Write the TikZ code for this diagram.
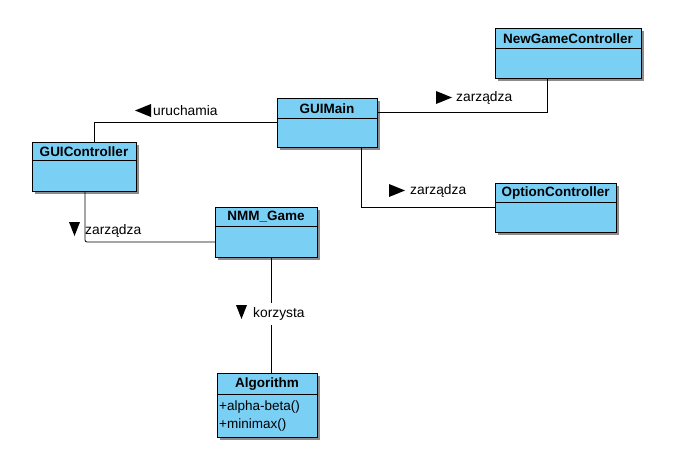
\documentclass[tikz,border=0pt]{standalone}
\usepackage{fontspec}
\setmainfont{Liberation Sans}
\usetikzlibrary{shadows}
\definecolor{clsfill}{RGB}{122,207,245}
\tikzset{
  cls/.style={draw=black, line width=1pt, fill=clsfill, inner sep=0pt, outer sep=0pt, anchor=north west,
    drop shadow={shadow xshift=3pt, shadow yshift=-3pt, fill=black!45, opacity=1}},
  clstitle/.style={font=\bfseries\fontsize{13.5}{15}\selectfont, inner sep=0pt},
  member/.style={font=\fontsize{13.5}{15}\selectfont, inner sep=0pt, anchor=west},
  lbl/.style={font=\fontsize{13.8}{15}\selectfont, inner sep=0pt, anchor=west},
  conn/.style={line width=0.8pt},
  tri/.style={fill=black}
}
\newcommand\umlclass[7]{%
  \node[cls, minimum width={(#4-#2)*1pt}, minimum height={(#5-#3)*1pt}] (#1) at (#2,#3) {};
  \node[clstitle] (#1t) at ({(#2+#4)/2},{(#3+#6)/2+0.5}) {#7};
  \draw[line width=1pt] (#1.west |- 0,#6) -- (#1.east |- 0,#6);
}
\begin{document}
\begin{tikzpicture}[x=1pt,y=-1pt]
\useasboundingbox[fill=white] (0,0) rectangle (679,466);
% classes
\umlclass{gm}{277}{98}{377}{147}{118}{GUIMain}
\umlclass{ng}{495}{28}{641}{78}{48}{NewGameController}
\umlclass{gc}{32}{142}{136}{191}{160}{GUIController}
\umlclass{nm}{215}{207}{317}{257}{226}{NMM\_Game}
\umlclass{oc}{495}{183}{616}{232}{202}{OptionController}
\umlclass{al}{217}{373}{317}{437}{394}{Algorithm}
\node[member] (m1) at (219,407) {+alpha-beta()};
\node[member] (m2) at (219,425) {+minimax()};
% connectors
\draw[conn] (gm.west) -| ([xshift=10pt]gc.north);
\draw[conn] ([yshift=10.5pt]gm.east) -| ([xshift=-21pt]ng.south);
\draw[conn] ([xshift=34pt]gm.south) |- (oc.west);
\draw[conn, rounded corners=2pt] ([xshift=1pt]gc.south) |- ([yshift=-10pt]nm.west);
\draw[conn] ([xshift=5pt]nm.south) -- ([xshift=5pt]nm.south |- al.north);
% labels
\node[lbl] (l1) at (153,111) {uruchamia};
\fill[tri] ([xshift=-2pt,yshift=7pt]l1.west) -- ([xshift=-2pt,yshift=-6pt]l1.west) -- ([xshift=-18pt,yshift=0.5pt]l1.west) -- cycle;
\node[lbl] (l2) at (456,98) {zarządza};
\fill[tri] ([xshift=-20pt,yshift=7pt]l2.west) -- ([xshift=-20pt,yshift=-6pt]l2.west) -- ([xshift=-4pt,yshift=0.5pt]l2.west) -- cycle;
\node[lbl] (l3) at (410,191) {zarządza};
\fill[tri] ([xshift=-21pt,yshift=7pt]l3.west) -- ([xshift=-21pt,yshift=-6pt]l3.west) -- ([xshift=-5pt,yshift=0.5pt]l3.west) -- cycle;
\node[lbl] (l4) at (85,231) {zarządza};
\fill[tri] ([xshift=-16pt,yshift=9pt]l4.west) -- ([xshift=-5pt,yshift=9pt]l4.west) -- ([xshift=-10.5pt,yshift=-5pt]l4.west) -- cycle;
\node[lbl, fill=white, inner ysep=5pt] (l5) at (253,314) {korzysta};
\fill[tri] ([xshift=-17pt,yshift=9pt]l5.west) -- ([xshift=-6pt,yshift=9pt]l5.west) -- ([xshift=-11.5pt,yshift=-5pt]l5.west) -- cycle;
\end{tikzpicture}
\end{document}
